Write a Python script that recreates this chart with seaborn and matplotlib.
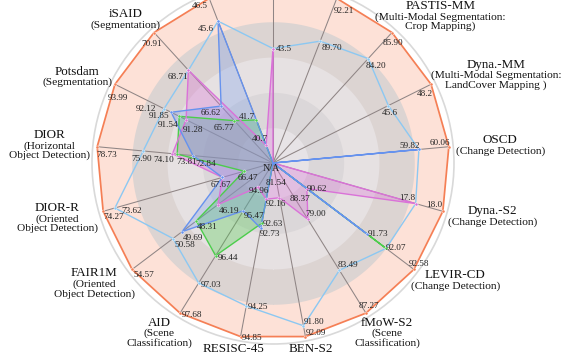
import numpy as np
import matplotlib
matplotlib.use("Agg")
import matplotlib.pyplot as plt
import seaborn as sns
import pandas as pd
from matplotlib.offsetbox import TextArea, VPacker, AnnotationBbox

# ---------------- data ----------------
categories = ["", "", "PASTIS-MM", "Dyna.-MM", "OSCD", "Dyna.-S2", "LEVIR-CD",
              "fMoW-S2", "BEN-S2", "RESISC-45", "AID", "FAIR1M", "DIOR-R",
              "DIOR", "Potsdam", "iSAID", ""]
subtitles = [[], [], ["(Multi-Modal Segmentation:", "Crop Mapping)"],
             ["(Multi-Modal Segmentation:", "LandCover Mapping )"],
             ["(Change Detection)"], ["(Change Detection)"], ["(Change Detection)"],
             ["(Scene", "Classification)"], [], [], ["(Scene", "Classification)"],
             ["(Oriented", "Object Detection)"], ["(Oriented", "Object Detection)"],
             ["(Horizontal", "Object Detection)"], ["(Segmentation)"],
             ["(Segmentation)"], []]
decimals = [1, 2, 2, 1, 2, 1, 2, 2, 2, 2, 2, 2, 2, 2, 2, 2, 1]

NA = np.nan
orange = [45.4, 92.21, 85.90, 48.2, 60.06, 18.0, 92.58, 87.27, 92.09, 94.85,
          97.68, 54.57, 74.27, 78.73, 93.99, 70.91, 46.5]
lightblue = [43.5, 89.70, 84.20, 45.6, 59.82, 17.8, 92.07, 83.49, 91.80, 94.25,
             97.03, 50.58, 73.62, 75.90, 92.12, 68.71, 45.6]
blue = [NA, NA, NA, NA, 59.82, NA, 91.73, NA, 81.54, 92.73, 95.47, 49.69,
        67.67, 72.84, 91.85, 66.62, 45.6]
magenta = [43.5, NA, NA, NA, NA, 17.8, 90.62, 79.00, 88.37, 92.16, 94.96,
           46.19, 67.67, 74.10, 91.28, 68.71, 40.7]
green = [NA, NA, NA, NA, NA, NA, 92.07, NA, NA, 92.63, 96.44, 48.31, 66.47,
         73.81, 91.54, 65.77, 41.7]
# per-axis scale (value mapped to radius 0 .. 1)
axis_low = [40.0, 82.56, 77.4, 38.57, 58.65, 16.75, 90.0, 74.04, 87.44, 91.45,
            94.44, 40.83, 64.87, 67.92, 87.97, 63.3, 40.0]
axis_high = orange

# ---------------- style ----------------
sns.set_theme(style="white")
plt.rcParams["font.family"] = ["Liberation Serif", "DejaVu Serif"]

C_OR, C_LB, C_BL, C_MA, C_GR = "#f57f55", "#8cc8f2", "#6692ee", "#da72d8", "#4ccd4c"
methods = [  # (values, line colour, fill alpha)
    (orange, C_OR, 0.0),
    (lightblue, C_LB, 0.0),
    (green, C_GR, 0.32),
    (magenta, C_MA, 0.32),
    (blue, C_BL, 0.26),
]

# value label placement per axis: (ha, dx px, dy px downwards)
label_default = [("left", 3, 0), ("left", 1, 6.5), ("center", 1, 10), ("right", 1.5, 10),
                 ("right", 1.5, -3.5), ("right", 0, -6), ("left", 0, 0), ("left", -2, -5),
                 ("left", 0, -4), ("left", 1, 1), ("left", 2, 2), ("left", 1, 6),
                 ("left", 0, 6), ("left", -1, 8), ("right", -2, 5), ("right", 0, 7),
                 ("right", -2, 5)]
label_override = {
    (1, 92.21): ("left", -2.6, 13), (2, 84.20): ("center", 7.6, 7),
    (3, 45.6): ("center", 1, 7.5), (6, 92.58): ("center", 5, -5),
    (7, 87.27): ("center", 3, -7.6), (8, 88.37): ("left", 10, 1),
    (9, 92.73): ("left", -1, 6), (9, 92.16): ("left", 0, 5),
    (10, 95.47): ("left", 0, 5), (10, 94.96): ("center", 1, 4),
    (12, 73.62): ("left", 6, 3), (12, 67.67): ("center", -1.6, 7.7),
    (12, 66.47): ("center", 4, 7), (13, 75.90): ("center", -1.6, 8),
    (13, 74.10): ("right", 2, 6), (13, 72.84): ("left", 2, 8),
    (14, 93.99): ("center", 3.5, 13.6),
    (14, 92.12): ("right", -7.5, 0), (14, 91.85): ("right", -2, 3.5),
    (14, 91.54): ("right", -1, 8.5), (14, 91.28): ("left", -3, 10),
    (15, 70.91): ("center", -2, 11), (16, 46.5): ("right", -1, 8),
    (16, 45.6): ("right", -4, 7.6), (16, 41.7): ("right", -1, -3),
    (16, 40.7): ("right", 2, -6),
}

n = len(categories)
theta = np.arange(n) * 2 * np.pi / n
low = np.array(axis_low)
high = np.array(axis_high, dtype=float)


def to_r(vals):
    v = np.array(vals, dtype=float)
    r = (v - low) / (high - low)
    r = np.clip(r, 0, 1)
    return np.where(np.isnan(v), 0.0, r)


W, H = 576, 356
fig = plt.figure(figsize=(W / 100, H / 100), dpi=100)
RMAX = 1.025
ax = fig.add_axes([0.15972, 0.03371, 0.62847, 1.01685], projection="polar")
ax.set_theta_zero_location("N")
ax.set_theta_direction(-1)
ax.set_ylim(0, RMAX)
ax.set_xticks([])
ax.set_yticks([])
ax.grid(False)
ax.set_facecolor("white")
ax.spines["polar"].set_color("#d9d9d9")
ax.spines["polar"].set_linewidth(1.2)

# outer (best) polygon fill
tc = np.append(theta, theta[0])
r_or = to_r(orange)
ax.fill(tc, np.append(r_or, r_or[0]), color="#fde1d7", lw=0, zorder=1)

# concentric bands
circ = np.linspace(0, 2 * np.pi, 400)
band_cols = ["#dcd4d2", "#e6e1e2", "#dbd7d9", "#e7e3e6"]
for rr, col in zip([0.8, 0.6, 0.4, 0.2], band_cols):
    ax.fill_between(circ, 0, rr, color=col, lw=0, zorder=2)

# spokes
for t in theta:
    ax.plot([t, t], [0, 1], color="#8f8585", lw=0.75, zorder=3)

# method polygons
for vals, col, fa in methods:
    r = to_r(vals)
    rc = np.append(r, r[0])
    if fa > 0:
        ax.fill(tc, rc, color=col, alpha=fa, lw=0, zorder=4)
    df = pd.DataFrame({"theta": tc, "r": rc})
    lw = 1.25 if col == C_OR else 1.0
    sns.lineplot(data=df, x="theta", y="r", sort=False, estimator=None,
                 color=col, lw=lw, ax=ax, zorder=5, legend=False)
    mask = r > 0
    ax.plot(theta[mask], r[mask], "o", ms=2.2, color=col, mec="white", mew=0.3, zorder=6)
ax.set_xlabel("")
ax.set_ylabel("")


def on_canvas(th, rv, dx, dy):
    px, py = ax.transData.transform((th, rv))
    py_img = H - py + dy
    return -2 < px + dx < W + 2 and 2 < py_img < H + 2


# value labels
VFS = 6.6
for k in range(n):
    seen = set()
    for vals, col, fa in methods:
        v = vals[k]
        if np.isnan(v) or v in seen:
            continue
        seen.add(v)
        txt = f"{v:.{decimals[k]}f}"
        rv = to_r([np.nan if i != k else v for i in range(n)])[k]
        if rv <= 0:
            ax.annotate(txt, xy=(0, 0), xytext=(3.5, -20), textcoords="offset pixels",
                        ha="center", va="center", fontsize=VFS, color="#222222",
                        zorder=8, annotation_clip=False)
            continue
        ha, dx, dy = label_override.get((k, v), label_default[k])
        if not on_canvas(theta[k], rv, dx, dy):
            continue
        ax.annotate(txt, xy=(theta[k], rv), xytext=(dx, -dy), textcoords="offset pixels",
                    ha=ha, va="center", fontsize=VFS, color="#222222", zorder=8,
                    annotation_clip=False)

ax.annotate("N/A", xy=(0, 0), xytext=(-2, -6), textcoords="offset pixels",
            ha="center", va="center", fontsize=VFS + 0.6, color="#222222", zorder=8,
            annotation_clip=False)

# category labels
for k in range(n):
    if not categories[k]:
        continue
    kids = [TextArea(categories[k], textprops=dict(fontsize=9.4, color="#111111"))]
    for s in subtitles[k]:
        kids.append(TextArea(s, textprops=dict(fontsize=8.2, color="#111111")))
    box = VPacker(children=kids, align="center", pad=0, sep=0)
    s_, c_ = np.sin(theta[k]), np.cos(theta[k])
    ab = AnnotationBbox(box, (theta[k], 1.04), xycoords="data",
                        box_alignment=((1 - s_) / 2, (1 - c_) / 2),
                        frameon=False, pad=0, annotation_clip=False, zorder=9)
    ax.add_artist(ab)

fig.savefig("out.png", dpi=100)
